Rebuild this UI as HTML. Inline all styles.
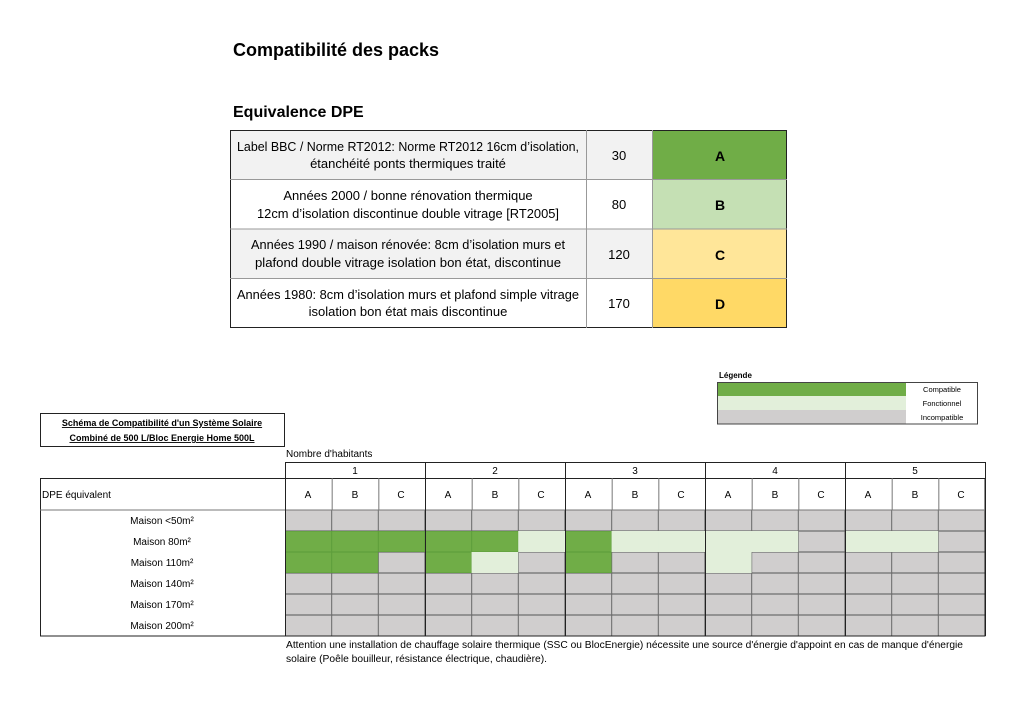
<!DOCTYPE html>
<html><head><meta charset="utf-8"><style>
body{margin:0;background:#fff}
svg{display:block}
text{font-family:"Liberation Sans",sans-serif;fill:#000}
</style></head><body>
<svg id="s" width="1024" height="726" viewBox="0 0 1024 726">
<text x="233" y="56" font-size="18" font-weight="bold">Compatibilité des packs</text>
<text x="233" y="117" font-size="16" font-weight="bold">Equivalence DPE</text>

<!-- top table -->
<rect x="230" y="130" width="356" height="49.5" fill="#f2f2f2"/>
<rect x="586" y="130" width="66" height="49.5" fill="#f2f2f2"/>
<rect x="230" y="228.5" width="356" height="49.5" fill="#f2f2f2"/>
<rect x="586" y="228.5" width="66" height="49.5" fill="#f2f2f2"/>
<rect x="652" y="130" width="135" height="49.5" fill="#70ad47"/>
<rect x="652" y="179.5" width="135" height="49.5" fill="#c5e0b4"/>
<rect x="652" y="229" width="135" height="49.5" fill="#ffe699"/>
<rect x="652" y="278.5" width="135" height="49.5" fill="#ffd966"/>
<g stroke="#222" stroke-width="1" fill="none">
<rect x="230.5" y="130.5" width="556" height="197"/>
<line x1="230" y1="179.5" x2="787" y2="179.5" stroke="#999"/>
<line x1="230" y1="229" x2="787" y2="229" stroke="#999"/>
<line x1="230" y1="278.5" x2="787" y2="278.5" stroke="#999"/>
<line x1="586.5" y1="130" x2="586.5" y2="328" stroke="#999"/>
<line x1="652.5" y1="130" x2="652.5" y2="328" stroke="#999"/>
</g>
<g font-size="13" text-anchor="middle">
<text x="408" y="151" textLength="342" lengthAdjust="spacingAndGlyphs">Label BBC / Norme RT2012: Norme RT2012 16cm d’isolation,</text>
<text x="408" y="168">étanchéité ponts thermiques traité</text>
<text x="408" y="200">Années 2000 / bonne rénovation thermique</text>
<text x="408" y="218" textLength="302" lengthAdjust="spacingAndGlyphs">12cm d’isolation discontinue double vitrage [RT2005]</text>
<text x="408" y="249" textLength="314" lengthAdjust="spacingAndGlyphs">Années 1990 / maison rénovée: 8cm d’isolation murs et</text>
<text x="408" y="267" textLength="306" lengthAdjust="spacingAndGlyphs">plafond double vitrage isolation bon état, discontinue</text>
<text x="408" y="299" textLength="342" lengthAdjust="spacingAndGlyphs">Années 1980: 8cm d’isolation murs et plafond simple vitrage</text>
<text x="408" y="316">isolation bon état mais discontinue</text>
<text x="619" y="160">30</text><text x="619" y="209">80</text><text x="619" y="259">120</text><text x="619" y="308">170</text>
</g>
<g font-size="14" font-weight="bold" text-anchor="middle">
<text x="720" y="161">A</text><text x="720" y="210">B</text><text x="720" y="260">C</text><text x="720" y="309">D</text>
</g>

<!-- legend -->
<text x="719" y="378" font-size="8" font-weight="bold">Légende</text>
<rect x="717" y="382" width="189" height="14" fill="#70ad47"/>
<rect x="717" y="396" width="189" height="14" fill="#e2efda"/>
<rect x="717" y="410" width="189" height="14" fill="#d0cece"/>
<rect x="717.5" y="382.5" width="260" height="41.5" fill="none" stroke="#444"/>
<g font-size="7.5" text-anchor="middle">
<text x="942" y="392">Compatible</text><text x="942" y="406">Fonctionnel</text><text x="942" y="420">Incompatible</text>
</g>

<!-- schema title -->
<rect x="40.5" y="413.5" width="244" height="33" fill="none" stroke="#222"/>
<g font-size="9" font-weight="bold" text-anchor="middle" text-decoration="underline">
<text x="162" y="426">Schéma de Compatibilité d'un Système Solaire</text>
<text x="162" y="441">Combiné de 500 L/Bloc Energie Home 500L</text>
</g>
<text x="286" y="457" font-size="10">Nombre d'habitants</text>

<g id="grid"></g>
<g id="lines" stroke="#222" fill="none"></g>

<g font-size="10" text-anchor="middle">
<text x="355" y="474">1</text><text x="495" y="474">2</text><text x="635" y="474">3</text><text x="775" y="474">4</text><text x="915" y="474">5</text>
<text x="308" y="498">A</text><text x="355" y="498">B</text><text x="401" y="498">C</text>
<text x="448" y="498">A</text><text x="495" y="498">B</text><text x="541" y="498">C</text>
<text x="588" y="498">A</text><text x="635" y="498">B</text><text x="681" y="498">C</text>
<text x="728" y="498">A</text><text x="775" y="498">B</text><text x="821" y="498">C</text>
<text x="868" y="498">A</text><text x="915" y="498">B</text><text x="961" y="498">C</text>
<text x="162" y="524">Maison &lt;50m²</text>
<text x="162" y="545">Maison 80m²</text>
<text x="162" y="566">Maison 110m²</text>
<text x="162" y="587">Maison 140m²</text>
<text x="162" y="608">Maison 170m²</text>
<text x="162" y="629">Maison 200m²</text>
</g>
<text x="42" y="498" font-size="10">DPE équivalent</text>
<g font-size="10">
<text x="286" y="648" textLength="677" lengthAdjust="spacingAndGlyphs">Attention une installation de chauffage solaire thermique (SSC ou BlocEnergie) nécessite une source d'énergie d'appoint en cas de manque d'énergie</text>
<text x="286" y="662" textLength="261" lengthAdjust="spacingAndGlyphs">solaire (Poêle bouilleur, résistance électrique, chaudière).</text>
</g>
</svg>
<script>
var ns="http://www.w3.org/2000/svg";
function el(p,t,a){var e=document.createElementNS(ns,t);for(var k in a)e.setAttribute(k,a[k]);document.getElementById(p).appendChild(e);}
var C={G:"#70ad47",L:"#e2efda",X:"#d0cece"};
var rows=["XXXXXXXXXXXXXXX","GGGGGLGLLLLXLLX","GGXGLXGXXLXXXXX","XXXXXXXXXXXXXXX","XXXXXXXXXXXXXXX","XXXXXXXXXXXXXXX"];
var w=140/3;
for(var r=0;r<6;r++)for(var c=0;c<15;c++){
 var x=285+c*w,y=510+r*21;
 el("grid","rect",{x:x,y:y,width:w+0.3,height:21,fill:C[rows[r][c]]});
 var ch=rows[r][c];
 var sc=ch=="G"?"#5a9a3a":(ch=="L"?"#e2efda":"#555");
 el("grid","rect",{x:x+0.25,y:y+0.25,width:w-0.5,height:20.5,fill:"none",stroke:sc,"stroke-width":0.5});
}
el("lines","rect",{x:40.5,y:478.5,width:944.5,height:157.5});
el("lines","line",{x1:285,y1:462.5,x2:985,y2:462.5});
el("lines","line",{x1:40,y1:510,x2:985,y2:510,stroke:"#777"});
for(var g=0;g<=5;g++){var x=285.5+g*140;el("lines","line",{x1:x,y1:462,x2:x,y2:636});}
for(var c=0;c<15;c++){if(c%3==0)continue;var x=285.5+c*w;el("lines","line",{x1:x,y1:478,x2:x,y2:510,stroke:"#777"});}
</script>
</body></html>
